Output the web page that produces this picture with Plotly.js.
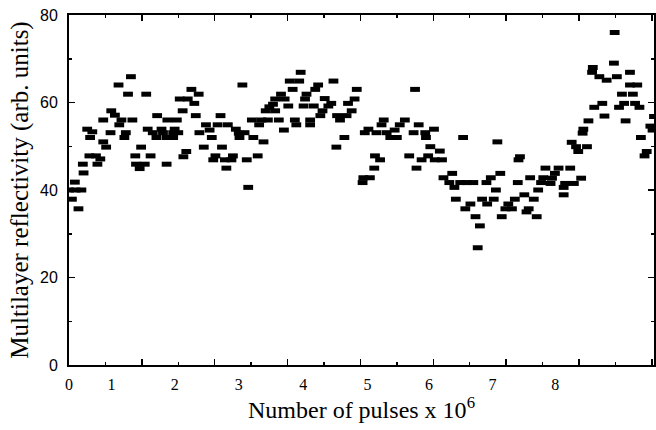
<!DOCTYPE html>
<html>
<head>
<meta charset="utf-8">
<script src="https://cdn.plot.ly/plotly-3.0.1.min.js"></script>
<style>html,body{margin:0;padding:0;background:#fff;}</style>
</head>
<body>
<div id="chart" style="width:656px;height:430px;"></div>
<script>
// Number of pulses (x 10^6)
const pulses = [
  0.00,0.04,0.08,0.09,0.13,0.17,0.19,0.20,0.25,0.28,
  0.29,0.32,0.37,0.39,0.43,0.47,0.47,0.51,0.57,0.58,
  0.63,0.68,0.69,0.72,0.76,0.78,0.81,0.85,0.87,0.91,
  0.92,0.97,0.99,1.04,1.06,1.08,1.12,1.15,1.20,1.21,
  1.27,1.29,1.34,1.34,1.35,1.43,1.43,1.45,1.48,1.50,
  1.52,1.56,1.57,1.61,1.63,1.68,1.72,1.74,1.78,1.79,
  1.85,1.88,1.93,1.96,1.98,2.01,2.04,2.08,2.10,2.14,
  2.16,2.18,2.23,2.25,2.29,2.33,2.34,2.38,2.41,2.44,
  2.46,2.51,2.53,2.59,2.61,2.64,2.67,2.70,2.73,2.75,
  2.80,2.83,2.83,2.88,2.91,2.95,2.96,3.01,3.03,3.07,
  3.10,3.12,3.16,3.18,3.22,3.24,3.26,3.31,3.31,3.36,
  3.38,3.42,3.45,3.48,3.51,3.56,3.60,3.63,3.67,3.68,
  3.72,3.78,3.81,3.83,3.88,3.92,3.95,4.03,4.04,4.06,
  4.11,4.13,4.19,4.20,4.22,4.27,4.29,4.32,4.36,4.41,
  4.47,4.50,4.54,4.61,4.67,4.73,4.75,4.77,4.80,4.84,
  4.89,4.90,4.93,4.96,5.01,5.02,5.09,5.12,5.14,5.22,
  5.26,5.29,5.31,5.37,5.41,5.44,5.46,5.51,5.55,5.58,
  5.61,5.64,5.67,5.73,5.74,5.79,5.83,5.86,5.88,5.92,
  5.94,5.99,6.03,6.08,6.12,6.16,6.17,6.19,6.25,6.28,
  6.31,6.33,6.38,6.42,6.44,6.48,6.51,6.54,6.61,6.63,
  6.67,6.72,6.79,6.79,6.81,6.88,6.90,6.93,6.96,6.99,
  7.03,7.05,7.06,7.11,7.13,7.18,7.19,7.21,7.28,7.32,
  7.35,7.38,7.48,7.49,7.52,7.55,7.59,7.62,7.64,7.70,
  7.70,7.74,7.77,7.80,7.83,7.85,7.90,7.93,7.98,8.01,
  8.03
];
// Multilayer reflectivity (arb. units)
const reflectivity = [
  40.0,37.9,41.8,40.0,35.7,40.0,45.9,43.9,53.9,47.8,
  52.0,53.3,47.8,45.9,47.1,51.0,56.0,49.8,53.1,58.1,
  57.1,64.0,54.9,56.0,52.0,53.1,61.9,65.9,56.0,47.8,
  45.9,44.9,49.8,45.9,61.9,53.9,47.8,53.1,52.0,57.0,
  53.9,53.1,52.0,45.9,56.0,53.1,52.0,53.9,56.0,53.1,
  60.8,58.1,47.6,48.8,60.8,63.0,59.8,57.0,61.9,53.1,
  49.8,54.9,53.7,52.0,46.9,47.8,54.9,57.0,49.8,46.9,
  45.0,54.9,46.9,47.8,53.9,53.0,52.0,64.0,53.1,46.9,
  40.6,56.0,52.0,47.8,54.9,56.0,51.0,58.1,56.0,59.0,
  59.6,60.8,58.1,56.0,61.9,53.7,60.8,59.2,64.9,63.0,
  56.0,54.9,64.9,66.9,59.2,60.8,61.9,56.0,54.9,59.2,
  63.0,64.0,57.0,58.1,60.9,59.2,59.8,64.9,49.8,57.0,
  56.0,52.0,57.0,59.8,58.1,60.8,63.0,41.7,42.8,53.1,
  53.9,42.8,45.0,47.8,53.1,46.9,54.9,56.0,53.1,52.0,
  53.7,52.0,54.9,56.0,47.8,53.1,63.0,45.0,54.9,46.9,
  53.1,52.0,47.8,49.9,53.9,46.9,48.9,46.9,42.8,41.7,
  43.8,40.6,37.9,41.7,52.0,35.7,41.7,36.8,41.7,33.9,
  26.8,31.8,37.9,41.7,36.8,42.8,37.9,40.0,51.0,43.8,
  33.9,35.7,36.8,35.7,37.9,41.7,46.9,47.6,38.9,35.0,
  35.7,42.8,37.9,33.9,40.0,41.7,42.8,45.0,41.5,42.7,
  43.8,45.0,40.6,38.9,41.5,45.0,50.9,41.5,49.9,48.8,
  42.7,53.0,53.9,49.9,55.8,66.9,68.0,58.9,65.9,59.8,
  56.9,65.1,69.0,76.0,65.9,58.9,61.9,59.8,55.8,64.0,
  66.9,61.9,59.8,64.0,58.9,52.0,47.8,48.8,54.6,53.7,
  56.8
];
// x tick labels as printed on the original figure, and where they sit
const xTickLabels = ['0','1','2','3','4','5','6','7','8'];
const xTickLabelAt = [0, 0.584, 1.45, 2.33, 3.216, 4.096, 4.942, 5.814, 6.674];
const yTickVals = [0, 20, 40, 60, 80];

const traces = [
  {
    type: 'scatter', mode: 'markers',
    x: pulses, y: reflectivity,
    xaxis: 'x', yaxis: 'y',
    marker: {symbol: 'line-ew', size: 7, color: '#000', line: {width: 5, color: '#000'}},
    hoverinfo: 'x+y'
  },
  { type: 'scatter', mode: 'markers', x: [], y: [], xaxis: 'x2', yaxis: 'y', showlegend: false }
];

const NB = '\u00A0';
const XR = [0, 8.03];
const layout = {
  width: 656, height: 430,
  margin: {l: 69, r: 2, t: 15, b: 65, pad: 0},
  paper_bgcolor: '#ffffff', plot_bgcolor: '#ffffff',
  showlegend: false,
  font: {family: 'Liberation Serif', color: '#000'},
  xaxis: {
    range: XR, showline: true, linecolor: '#000', linewidth: 2, mirror: 'ticks',
    ticks: 'inside', tick0: 0, dtick: 1, ticklen: 6, tickwidth: 1.5, tickcolor: '#000',
    showticklabels: false, showgrid: false, zeroline: false, fixedrange: true,
    minor: {ticks: 'inside', tick0: 0, dtick: 0.5, ticklen: 3, tickwidth: 1.5, tickcolor: '#000', showgrid: false}
  },
  xaxis2: {
    overlaying: 'x', anchor: 'y', side: 'bottom', range: XR, fixedrange: true,
    tickmode: 'array', tickvals: xTickLabelAt, ticktext: xTickLabels,
    ticks: '', showline: false, showgrid: false, zeroline: false,
    ticklabelstandoff: 8,
    tickfont: {family: 'Liberation Serif', size: 16, color: '#000'},
    title: {text: 'Number of pulses x 10<sup>6</sup>' + NB.repeat(5), font: {family: 'Liberation Serif', size: 24, color: '#000'}, standoff: 5}
  },
  yaxis: {
    range: [0, 80], showline: true, linecolor: '#000', linewidth: 2, mirror: 'ticks',
    ticks: 'inside', tickmode: 'array', tickvals: yTickVals, ticklen: 6, tickwidth: 1.5, tickcolor: '#000',
    showgrid: false, zeroline: false, fixedrange: true,
    ticklabelstandoff: 6,
    tickfont: {family: 'Liberation Sans', size: 16, color: '#000'},
    minor: {ticks: 'inside', dtick: 10, ticklen: 3, tickwidth: 1.5, tickcolor: '#000', showgrid: false},
    title: {text: 'Multilayer reflectivity (arb. units)' + NB.repeat(2), font: {family: 'Liberation Serif', size: 25, color: '#000'}, standoff: 4}
  }
};

Plotly.newPlot('chart', traces, layout, {staticPlot: true, displayModeBar: false});
</script>
</body>
</html>
